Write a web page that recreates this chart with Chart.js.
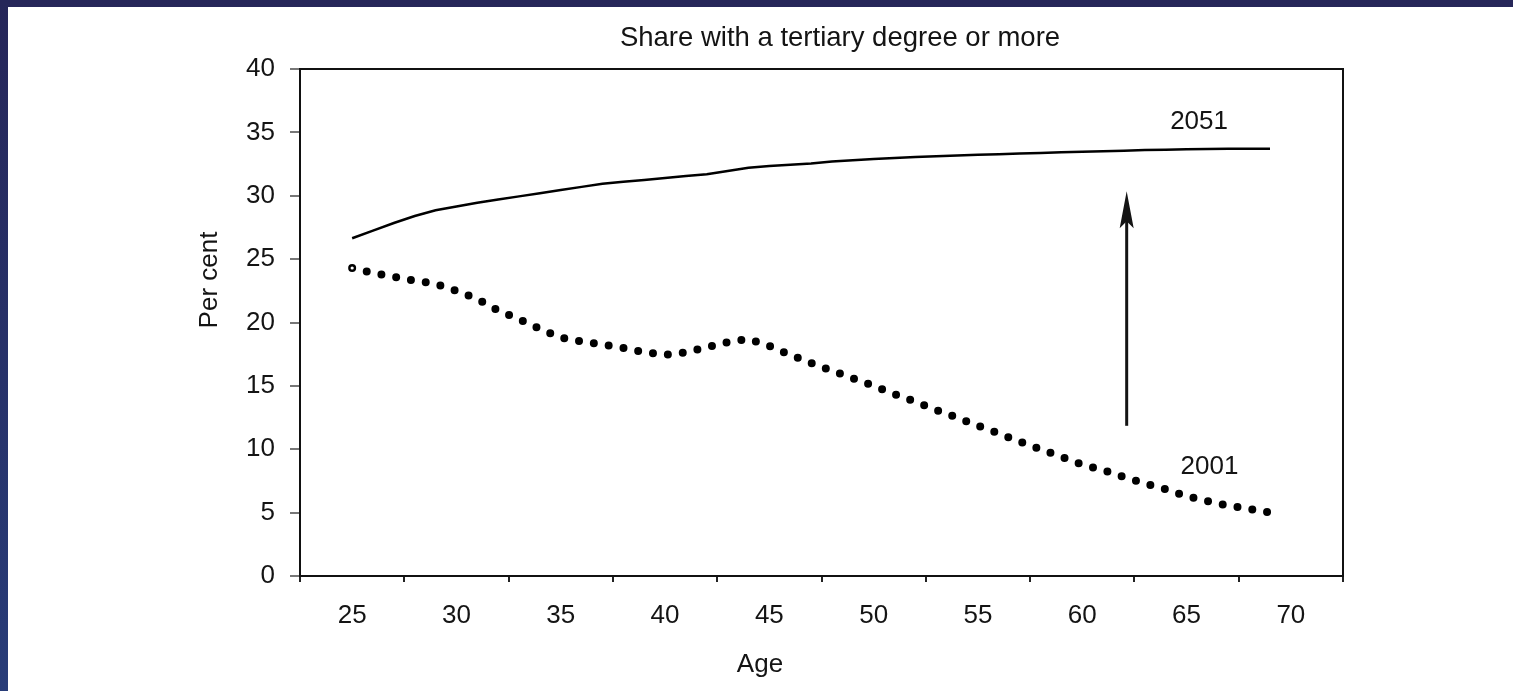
<!DOCTYPE html>
<html>
<head>
<meta charset="utf-8">
<title>Share with a tertiary degree or more</title>
<script src="https://cdn.jsdelivr.net/npm/chart.js@4.4.1/dist/chart.umd.min.js"></script>
<style>
  html, body { margin: 0; padding: 0; }
  body {
    width: 1513px; height: 691px; overflow: hidden;
    background: linear-gradient(to bottom, #262659, #283c78);
  }
  #wrap { position: absolute; left: 8px; top: 7px; width: 1505px; height: 684px; background: #fff; }
</style>
</head>
<body>
<div id="wrap"><canvas id="chart" width="1505" height="684"></canvas></div>
<script>
// Age by single year, shares in per cent
const ages = [25, 26, 27, 28, 29, 30, 31, 32, 33, 34, 35, 36, 37, 38, 39, 40, 41, 42, 43, 44, 45, 46, 47,
              48, 49, 50, 51, 52, 53, 54, 55, 56, 57, 58, 59, 60, 61, 62, 63, 64, 65, 66, 67, 68, 69];
const share2001 = [24.3, 23.9, 23.6, 23.3, 23.05, 22.5, 21.85, 20.95, 20.25, 19.5, 18.8, 18.5, 18.25, 18.0,
                   17.65, 17.45, 17.65, 18.05, 18.45, 18.7, 18.15, 17.45, 16.8, 16.2, 15.6, 15.0, 14.35,
                   13.75, 13.1, 12.5, 11.85, 11.25, 10.6, 10.0, 9.4, 8.8, 8.35, 7.8, 7.3, 6.85, 6.3, 5.9,
                   5.55, 5.3, 5.0];
const share2051 = [26.65, 27.25, 27.85, 28.4, 28.85, 29.15, 29.45, 29.7, 29.95, 30.2, 30.45, 30.7, 30.95,
                   31.1, 31.25, 31.4, 31.55, 31.7, 31.95, 32.2, 32.35, 32.45, 32.55, 32.7, 32.8, 32.9,
                   32.97, 33.05, 33.12, 33.18, 33.23, 33.28, 33.33, 33.38, 33.43, 33.47, 33.52, 33.56,
                   33.6, 33.63, 33.66, 33.69, 33.7, 33.7, 33.7];
const ageTicks = ['25', '30', '35', '40', '45', '50', '55', '60', '65', '70'];
const seriesNames = ['2001', '2051'];

// label anchors and the arrow, in data units
const seriesLabelAt = [{ age: 66.1, value: 8.65 }, { age: 65.6, value: 35.8 }];
const arrowFrom = { age: 62.13, value: 11.85 };
const arrowTo = { age: 62.13, value: 30.35 };

const FONT = '"Liberation Sans", Arial, sans-serif';
const INK = '#141414';

const toPoints = (xs, ys) => xs.map((x, i) => ({ x: x, y: ys[i] }));

const decorations = {
  id: 'decorations',
  afterDatasetsDraw(chart) {
    const { ctx, chartArea: a, scales } = chart;
    const px = v => scales.age.getPixelForValue(v);
    const py = v => scales.y.getPixelForValue(v);
    ctx.save();

    // top and right frame lines
    ctx.strokeStyle = '#111';
    ctx.lineWidth = 2;
    ctx.beginPath();
    ctx.moveTo(a.left, a.top);
    ctx.lineTo(a.right, a.top);
    ctx.lineTo(a.right, a.bottom);
    ctx.stroke();

    // arrow
    const ax = px(arrowFrom.age), y0 = py(arrowFrom.value), y1 = py(arrowTo.value);
    ctx.strokeStyle = INK;
    ctx.fillStyle = INK;
    ctx.lineWidth = 3;
    ctx.beginPath();
    ctx.moveTo(ax, y0);
    ctx.lineTo(ax, y1 + 20);
    ctx.stroke();
    ctx.beginPath();
    ctx.moveTo(ax, y1);
    ctx.lineTo(ax + 7, y1 + 37);
    ctx.lineTo(ax, y1 + 30);
    ctx.lineTo(ax - 7, y1 + 37);
    ctx.closePath();
    ctx.fill();

    // series labels
    ctx.font = '26px ' + FONT;
    ctx.textAlign = 'center';
    ctx.textBaseline = 'middle';
    seriesNames.forEach((n, i) => {
      ctx.fillText(n, px(seriesLabelAt[i].age), py(seriesLabelAt[i].value));
    });

    // titles
    ctx.font = '27.5px ' + FONT;
    ctx.fillText('Share with a tertiary degree or more', 832, 31);
    ctx.font = '26px ' + FONT;
    ctx.fillText('Age', 752, 658);
    ctx.translate(202, 273);
    ctx.rotate(-Math.PI / 2);
    ctx.fillText('Per cent', 0, 0);
    ctx.restore();
  }
};

new Chart(document.getElementById('chart'), {
  type: 'line',
  data: {
    datasets: [
      {
        label: seriesNames[0],
        data: toPoints(ages, share2001),
        xAxisID: 'age',
        borderColor: '#000',
        borderWidth: 8,
        borderDash: [0, 15],
        borderCapStyle: 'round',
        tension: 0,
        pointRadius: ages.map((a, i) => (i === 0 ? 1.6 : 0)),
        pointBackgroundColor: '#fff',
        pointBorderWidth: 0,
        fill: false
      },
      {
        label: seriesNames[1],
        data: toPoints(ages, share2051),
        xAxisID: 'age',
        borderColor: '#000',
        borderWidth: 2.5,
        tension: 0,
        pointRadius: 0,
        fill: false
      }
    ]
  },
  plugins: [decorations],
  options: {
    responsive: false,
    animation: false,
    devicePixelRatio: 1,
    layout: { padding: { top: 62, right: 170, left: 0, bottom: 0 } },
    plugins: {
      legend: { display: false },
      title: { display: false },
      tooltip: { enabled: false }
    },
    scales: {
      x: {
        type: 'category',
        labels: ageTicks,
        offset: true,
        grid: { offset: true, drawOnChartArea: false, tickLength: 6, color: '#222', lineWidth: 2 },
        border: { color: '#111', width: 2 },
        ticks: { color: INK, font: { family: FONT, size: 26 }, padding: 18, maxRotation: 0, autoSkip: false },
        afterFit: s => { s.height = 115; }
      },
      age: {
        type: 'linear',
        display: false,
        min: 22.5,
        max: 72.5
      },
      y: {
        min: 0,
        max: 40,
        ticks: { stepSize: 5, color: INK, font: { family: FONT, size: 26 }, padding: 15 },
        grid: { drawOnChartArea: false, tickLength: 10, color: '#777', lineWidth: 2 },
        border: { color: '#111', width: 2 },
        afterFit: s => { s.width = 292; }
      }
    }
  }
});
</script>
</body>
</html>
